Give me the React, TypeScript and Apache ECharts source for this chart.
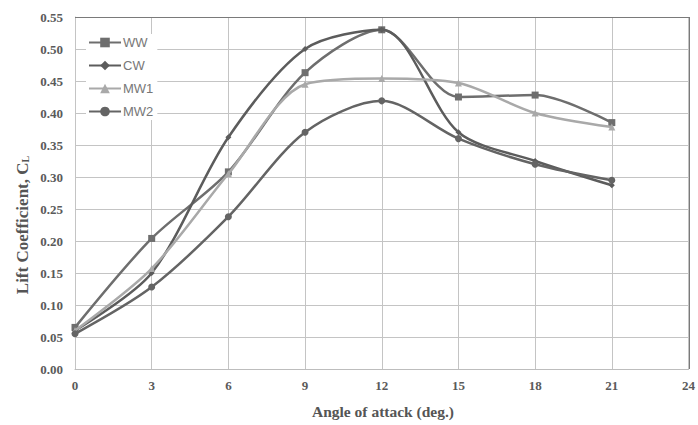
import React, { useEffect, useRef } from "react";
import * as echarts from "echarts";

const angles = [0, 3, 6, 9, 12, 15, 18, 21];
const seriesNames = ["WW", "CW", "MW1", "MW2"];
const ww = [0.065, 0.204, 0.308, 0.463, 0.53, 0.425, 0.428, 0.385];
const cw = [0.06, 0.15, 0.362, 0.5, 0.53, 0.37, 0.325, 0.287];
const mw1 = [0.06, 0.157, 0.305, 0.445, 0.454, 0.447, 0.4, 0.378];
const mw2 = [0.055, 0.128, 0.238, 0.37, 0.419, 0.36, 0.32, 0.295];
const colors = ["#6e6e6e", "#5c5c5c", "#a9a9a9", "#646464"];
const symbols = ["rect", "diamond", "triangle", "circle"];
const symbolSizes = [7, 6, 7, 7];

export default function App() {
  const ref = useRef<HTMLDivElement>(null);
  useEffect(() => {
    if (!ref.current) return;
    const chart = echarts.init(ref.current, null, { renderer: "svg" });
    const values = [ww, cw, mw1, mw2];
    const serif = "'Liberation Serif', 'Times New Roman', serif";
    chart.setOption({
      animation: false,
      backgroundColor: "#ffffff",
      grid: { left: 75, right: 9, top: 17, bottom: 56, containLabel: false, show: false },
      legend: {
        orient: "vertical",
        left: 86,
        top: 34,
        itemGap: 10,
        itemWidth: 32,
        itemHeight: 12,
        backgroundColor: "#ffffff",
        padding: [2, 4, 2, 2],
        data: seriesNames,
        textStyle: { color: "#777777", fontSize: 13, fontFamily: "'Liberation Sans', Arial, sans-serif", padding: [0, 0, 0, -3] },
      },
      xAxis: {
        type: "value",
        min: 0,
        max: 24,
        interval: 3,
        axisLine: { show: true, lineStyle: { color: "#bdbdbd", width: 1 } },
        axisTick: { show: false },
        splitLine: { show: true, lineStyle: { color: "#c4c4c4", width: 1 } },
        axisLabel: { color: "#5a5a5a", fontSize: 13, fontWeight: "bold", fontFamily: serif, margin: 10 },
      },
      yAxis: {
        type: "value",
        min: 0,
        max: 0.55,
        interval: 0.05,
        axisLine: { show: true, lineStyle: { color: "#c4c4c4", width: 1 } },
        axisTick: { show: false },
        splitLine: { show: true, lineStyle: { color: "#c4c4c4", width: 1 } },
        axisLabel: {
          color: "#5a5a5a",
          fontSize: 13,
          fontWeight: "bold",
          fontFamily: serif,
          margin: 12,
          formatter: (v: number) => v.toFixed(2),
        },
      },
      graphic: [
        {
          type: "line",
          shape: { x1: 75, y1: 17.5, x2: 689, y2: 17.5 },
          style: { stroke: "#7a7a7a", lineWidth: 1 },
          z: 10,
        },
        {
          type: "line",
          shape: { x1: 689.5, y1: 17, x2: 689.5, y2: 369 },
          style: { stroke: "#7a7a7a", lineWidth: 1 },
          z: 10,
        },
        {
          type: "text",
          x: 383,
          y: 411,
          style: {
            text: "Angle of attack (deg.)",
            fill: "#555555",
            font: "bold 15.5px 'Liberation Serif', serif",
            align: "center",
            verticalAlign: "middle",
          },
        },
        {
          type: "text",
          x: 22,
          y: 225,
          rotation: Math.PI / 2,
          style: {
            text: "Lift Coefficient, C{sub|L}",
            fill: "#555555",
            font: "bold 17px 'Liberation Serif', serif",
            align: "center",
            verticalAlign: "middle",
            rich: {
              sub: { fontSize: 10, fontWeight: "bold", fontFamily: serif, fill: "#555555", verticalAlign: "bottom", padding: [7, 0, 0, 0] },
            },
          },
        },
      ],
      series: seriesNames.map((name, i) => ({
        name,
        type: "line",
        smooth: 0.3,
        data: angles.map((a, j) => [a, values[i][j]]),
        symbol: symbols[i],
        symbolSize: symbolSizes[i],
        showSymbol: true,
        lineStyle: { color: colors[i], width: 2.5 },
        itemStyle: { color: colors[i] },
        z: 3 + i,
      })),
    });
    return () => chart.dispose();
  }, []);
  return <div ref={ref} style={{ position: "fixed", left: 0, top: 0, width: 698, height: 425 }} />;
}
